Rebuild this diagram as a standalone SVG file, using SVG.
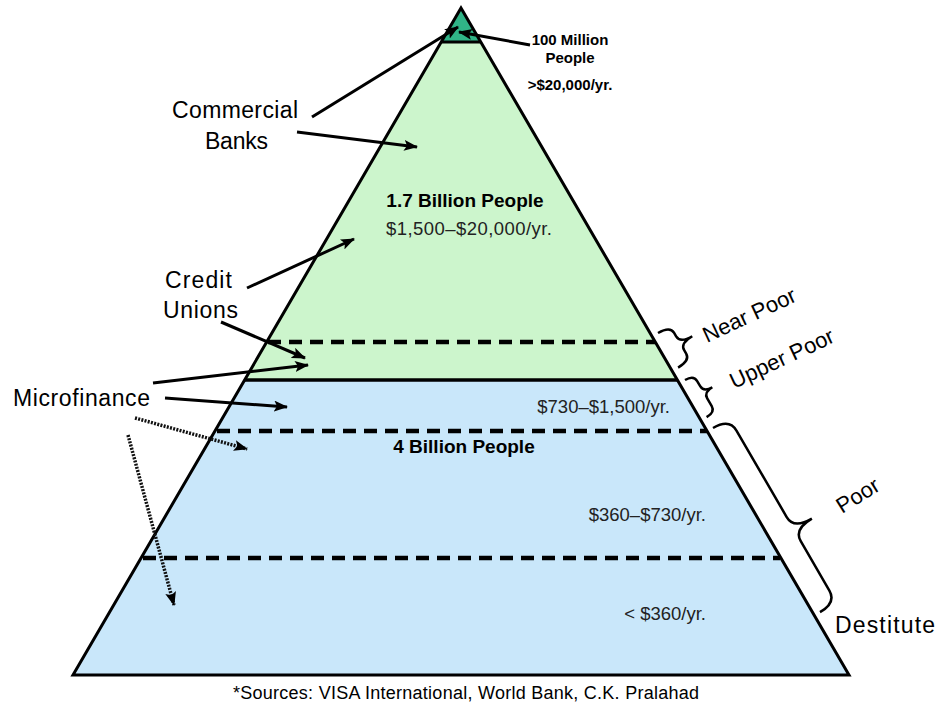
<svg xmlns="http://www.w3.org/2000/svg" width="937" height="708" viewBox="0 0 937 708">
<style>
text{font-family:"Liberation Sans",Arial,sans-serif;fill:#000}
.lbl{font-size:23px}
.side{font-size:22px}
.bold{font-weight:bold}
.inc{font-size:18.5px;fill:#222}
.arr{stroke:#000;stroke-width:3;fill:none;marker-end:url(#ah)}
.dot{stroke:#111;stroke-width:3.5;fill:none;stroke-dasharray:2 1.3;marker-end:url(#ah)}
.dash{stroke:#000;stroke-width:4.5;stroke-dasharray:13 8;fill:none}
.brace{stroke:#000;stroke-width:2.5;fill:none}
</style>
<defs>
<marker id="ah" markerUnits="userSpaceOnUse" markerWidth="15" markerHeight="11" refX="13" refY="5.5" orient="auto">
<path d="M0,0 L14,5.5 L0,11 L3,5.5 z" fill="#000"/>
</marker>
</defs>
<rect width="937" height="708" fill="#fff"/>
<g id="pyramid">
<polygon points="244.6,380 677.4,380 849,675 73,675" fill="#c9e7fa"/>
<polygon points="441.2,42 480.8,42 677.4,380 244.6,380" fill="#ccf5cc"/>
<polygon points="461,8 480.8,42 441.2,42" fill="#30b487"/>
<line x1="441.2" y1="42" x2="480.8" y2="42" stroke="#000" stroke-width="3"/>
<line x1="244.6" y1="380" x2="677.4" y2="380" stroke="#000" stroke-width="3.5"/>
<line class="dash" x1="268" y1="342" x2="655" y2="342"/>
<line class="dash" x1="217" y1="431" x2="707" y2="431"/>
<line class="dash" x1="143" y1="558" x2="780" y2="558"/>
<polygon points="461,8 849,675 73,675" fill="none" stroke="#000" stroke-width="3" stroke-linejoin="miter"/>
</g>
<g id="tier-top">
<text class="bold" font-size="15" x="570" y="45" text-anchor="middle">100 Million</text>
<text class="bold" font-size="15" x="570" y="63" text-anchor="middle">People</text>
<text class="bold" font-size="15" x="570" y="90" text-anchor="middle">&gt;$20,000/yr.</text>
</g>
<g id="tier-middle">
<text class="bold" font-size="19" x="465" y="207" text-anchor="middle">1.7 Billion People</text>
<text class="inc" x="469" y="235" text-anchor="middle" textLength="166">$1,500–$20,000/yr.</text>
</g>
<g id="tier-bottom">
<text class="inc" x="670" y="413" text-anchor="end">$730–$1,500/yr.</text>
<text class="bold" font-size="19" x="464" y="453" text-anchor="middle">4 Billion People</text>
<text class="inc" x="706" y="521" text-anchor="end">$360–$730/yr.</text>
<text class="inc" x="706" y="620" text-anchor="end">&lt; $360/yr.</text>
</g>
<g id="commercial-banks">
<text class="lbl" x="172" y="118" textLength="126">Commercial</text>
<text class="lbl" x="205" y="149" textLength="63">Banks</text>
</g>
<g id="credit-unions">
<text class="lbl" x="165" y="288" textLength="67">Credit</text>
<text class="lbl" x="163" y="318" textLength="75">Unions</text>
</g>
<g id="microfinance">
<text class="lbl" x="13" y="406" textLength="137">Microfinance</text>
</g>
<g id="near-poor">
<path class="brace" transform="translate(658,333) rotate(59.85)" d="M0,0 Q0,-14 8,-14 L12,-14 Q20,-14 20,-28 Q20,-14 28,-14 L32,-14 Q40,-14 40,0"/>
<text class="side" transform="translate(707,343) rotate(-25)">Near Poor</text>
</g>
<g id="upper-poor">
<path class="brace" transform="translate(685,380) rotate(59.85)" d="M0,0 Q0,-10 7,-10 L13,-10 Q20,-10 20,-20 Q20,-10 27,-10 L36,-10 Q43,-10 43,0"/>
<text class="side" transform="translate(734,389) rotate(-25)">Upper Poor</text>
</g>
<g id="poor">
<path class="brace" transform="translate(713,428) rotate(59.85)" d="M0,0 Q0,-19 14,-19 L114,-19 Q128,-19 128,-40 Q128,-19 142,-19 L199,-19 Q213,-19 213,0"/>
<text class="side" transform="translate(842,514) rotate(-32)">Poor</text>
</g>
<g id="destitute">
<text class="lbl" x="835" y="633" textLength="100">Destitute</text>
</g>
<g id="connectors">
<line class="arr" x1="312" y1="117" x2="458" y2="27"/>
<line class="arr" x1="530" y1="45" x2="459" y2="32"/>
<line class="arr" x1="297" y1="132" x2="417" y2="147"/>
<line class="arr" x1="247" y1="288" x2="354" y2="239"/>
<line class="arr" x1="221" y1="322" x2="305" y2="358"/>
<line class="arr" x1="153" y1="383" x2="308" y2="365"/>
<line class="arr" x1="165" y1="398" x2="287" y2="407"/>
<line class="dot" x1="135" y1="418" x2="247" y2="449"/>
<line class="dot" x1="128" y1="435" x2="174" y2="605"/>
</g>
<text x="233" y="699" font-size="18" textLength="466">*Sources: VISA International, World Bank, C.K. Pralahad</text>
</svg>
